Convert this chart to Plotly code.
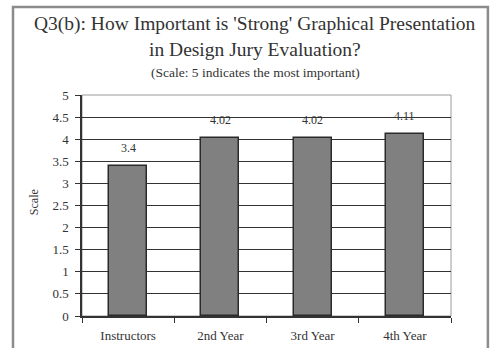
import plotly.graph_objects as go

groups = ["Instructors", "2nd Year", "3rd Year", "4th Year"]
scores = [3.4, 4.02, 4.02, 4.11]
score_labels = ["3.4", "4.02", "4.02", "4.11"]
y_ticks = [0, 0.5, 1, 1.5, 2, 2.5, 3, 3.5, 4, 4.5, 5]
y_tick_text = ["0", "0.5", "1", "1.5", "2", "2.5", "3", "3.5", "4", "4.5", "5"]

serif = "Liberation Serif, Times New Roman, serif"
ink = "#333333"

fig = go.Figure()
fig.add_trace(go.Bar(
    x=groups,
    y=scores,
    width=0.41,
    marker=dict(color="#808080", line=dict(color="#2a2a2a", width=1.5)),
    hoverinfo="x+y",
))

# value labels sitting above each bar
value_notes = [
    dict(x=g, y=v, text=t, xref="x", yref="y", showarrow=False,
         yanchor="bottom", yshift=9,
         font=dict(family=serif, size=12, color=ink))
    for g, v, t in zip(groups, scores, score_labels)
]

fig.update_layout(
    width=491,
    height=348,
    margin=dict(l=82, r=40, t=95, b=32),
    paper_bgcolor="white",
    plot_bgcolor="white",
    showlegend=False,
    bargap=0,
    font=dict(family=serif, color=ink),
    shapes=[
        # outer chart frame
        dict(type="rect", xref="paper", yref="paper",
             x0=-0.187, x1=1.100, y0=-0.2, y1=1.398,
             line=dict(color="#8c8c8c", width=2.5), layer="below"),
        # plot area border
        dict(type="rect", xref="paper", yref="paper",
             x0=0, x1=1, y0=0, y1=1,
             line=dict(color="#9a9a9a", width=1), layer="below"),
    ],
    annotations=[
        dict(text="Q3(b): How Important is 'Strong' Graphical Presentation",
             xref="paper", yref="paper", x=0.47, y=1.321, showarrow=False,
             yanchor="middle", xanchor="center",
             font=dict(family=serif, size=19.5, color=ink)),
        dict(text="in Design Jury Evaluation?",
             xref="paper", yref="paper", x=0.47, y=1.204, showarrow=False,
             yanchor="middle", xanchor="center",
             font=dict(family=serif, size=19.5, color=ink)),
        dict(text="(Scale: 5 indicates the most important)",
             xref="paper", yref="paper", x=0.47, y=1.104, showarrow=False,
             yanchor="middle", xanchor="center",
             font=dict(family=serif, size=13.5, color=ink)),
        dict(text="Scale", textangle=-90,
             xref="paper", yref="paper", x=-0.128, y=0.514, showarrow=False,
             yanchor="middle", xanchor="center",
             font=dict(family=serif, size=12, color=ink)),
    ] + value_notes,
)

fig.update_xaxes(
    automargin=False,
    tickson="boundaries",
    ticks="outside",
    ticklen=5,
    tickcolor=ink,
    showline=True,
    linecolor=ink,
    linewidth=1.5,
    tickfont=dict(family=serif, size=13, color=ink),
    ticklabelstandoff=7,
    showgrid=False,
)
fig.update_yaxes(
    automargin=False,
    range=[0, 5],
    tickvals=y_ticks,
    ticktext=y_tick_text,
    ticks="outside",
    ticklen=5,
    tickcolor=ink,
    showline=True,
    linecolor=ink,
    linewidth=1.5,
    showgrid=True,
    gridcolor=ink,
    gridwidth=1,
    zeroline=False,
    tickfont=dict(family=serif, size=13, color=ink),
    ticklabelstandoff=4,
)

fig.write_html("out.html")
